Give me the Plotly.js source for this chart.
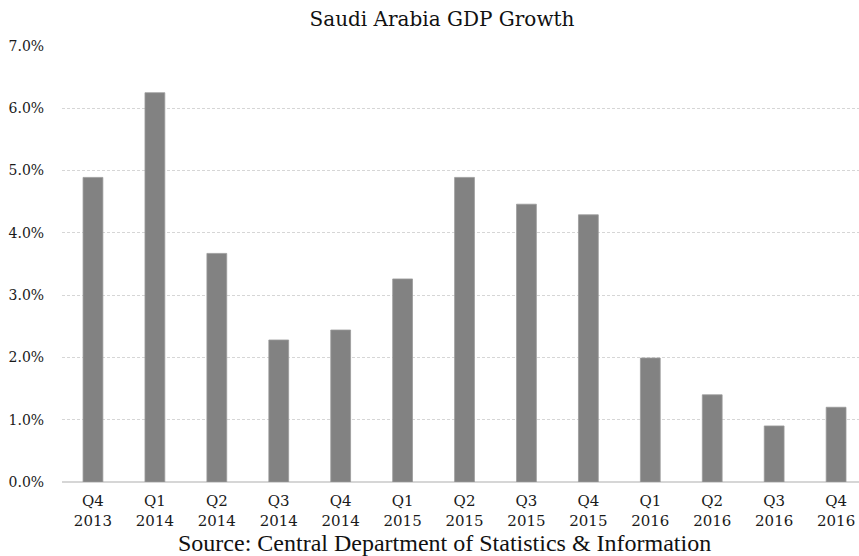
<!DOCTYPE html>
<html>
<head>
<meta charset="utf-8">
<script src="https://cdn.plot.ly/plotly-3.0.1.min.js"></script>
<style>html,body{margin:0;padding:0;background:#fff;}#chart{width:859px;height:556px;}</style>
</head>
<body>
<div id="chart"></div>
<script>
const quarters = ["Q4<br>2013","Q1<br>2014","Q2<br>2014","Q3<br>2014","Q4<br>2014","Q1<br>2015","Q2<br>2015","Q3<br>2015","Q4<br>2015","Q1<br>2016","Q2<br>2016","Q3<br>2016","Q4<br>2016"];
const gdpGrowth = [4.89, 6.25, 3.67, 2.28, 2.44, 3.26, 4.89, 4.46, 4.29, 1.99, 1.40, 0.90, 1.20];
const yTickVals = [0,1,2,3,4,5,6,7];
const yTickText = ["0.0%","1.0%","2.0%","3.0%","4.0%","5.0%","6.0%","7.0%"];
const titleText = "Saudi Arabia GDP Growth";
const sourceText = "Source: Central Department of Statistics &amp; Information";

const trace = {
  type: 'bar',
  x: quarters.map((q,i)=>i),
  y: gdpGrowth,
  marker: {color: '#828282', line: {color: '#9a9a9a', width: 0.8}},
  hoverinfo: 'skip'
};

const layout = {
  width: 859, height: 556,
  margin: {l: 62, r: 0, t: 46, b: 74},
  paper_bgcolor: '#fff', plot_bgcolor: '#fff',
  bargap: 0.68,
  showlegend: false,
  title: {
    text: titleText,
    font: {family: 'DejaVu Serif', size: 20, color: '#111'},
    x: 442/859, xanchor: 'center', xref: 'container',
    y: 1 - 19/556, yanchor: 'middle', yref: 'container'
  },
  xaxis: {
    range: [-0.5, 12.37],
    tickvals: quarters.map((q,i)=>i),
    ticktext: quarters,
    tickfont: {family: 'DejaVu Serif', size: 15, color: '#1a1a1a'},
    showgrid: false, zeroline: false, showline: false,
    ticks: 'outside', ticklen: 5, tickcolor: 'rgba(0,0,0,0)',
    fixedrange: true
  },
  yaxis: {
    range: [0, 7],
    tickvals: yTickVals,
    ticktext: yTickText,
    tickfont: {family: 'DejaVu Serif', size: 14, color: '#1a1a1a'},
    showgrid: true, gridcolor: '#d6d6d6', griddash: '3px,2px', gridwidth: 1,
    zeroline: true, zerolinecolor: '#d6d6d6', zerolinewidth: 1.5,
    showline: false,
    ticks: 'outside', ticklen: 14, tickcolor: 'rgba(0,0,0,0)',
    fixedrange: true
  },
  annotations: [{
    text: sourceText,
    xref: 'paper', yref: 'paper',
    x: (444-62)/797, y: -(543-482)/436,
    xanchor: 'center', yanchor: 'middle',
    showarrow: false,
    font: {family: 'Liberation Serif', size: 24, color: '#111'}
  }]
};

Plotly.newPlot('chart', [trace], layout, {displayModeBar: false, staticPlot: true});
</script>
</body>
</html>
